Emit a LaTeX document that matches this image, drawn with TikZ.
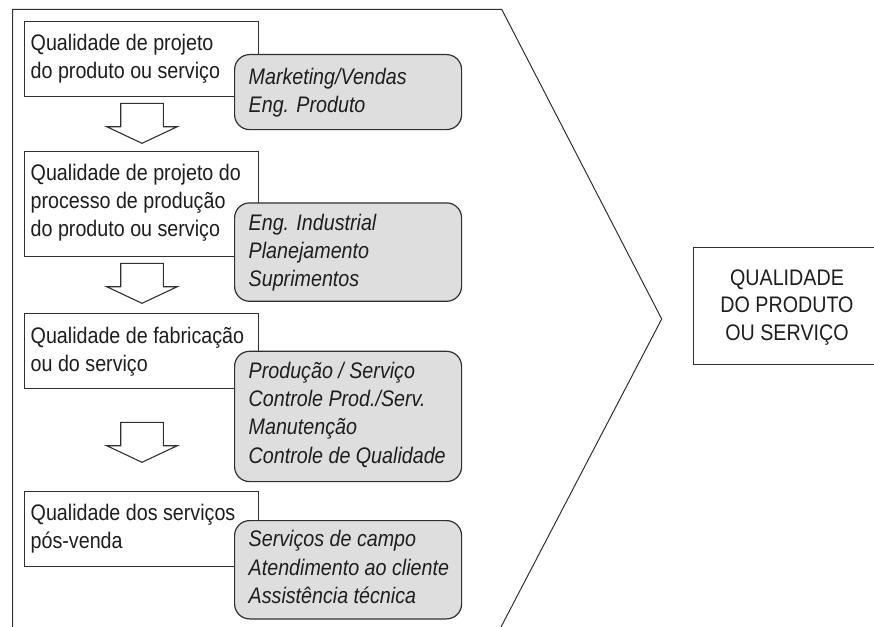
\documentclass[tikz,border=0pt]{standalone}
\usepackage{fontspec}
\setmainfont{Liberation Sans}[FakeStretch=0.875]
\definecolor{ink}{HTML}{1E1E1E}
\definecolor{frame}{HTML}{303030}
\definecolor{panel}{HTML}{DEDEDE}
\tikzset{
  txt/.style={anchor=base west, inner sep=0pt, text=ink, font=\fontsize{22.5}{28.3}\selectfont},
  itxt/.style={txt, font=\fontsize{22.5}{28.3}\selectfont\itshape},
  stage/.style={draw=frame, line width=1.1pt, fill=white, rectangle, anchor=north west, inner sep=0pt, minimum width=234pt},
  dept/.style={draw=frame, line width=1.2pt, fill=panel, rounded corners=15pt, anchor=north west, inner sep=0pt, minimum width=227pt},
  flowarrow/.style={draw=frame, line width=1.1pt, fill=white, line join=miter},
  downarrow/.pic={\draw[flowarrow] (-21.3,0) -- (21.3,0) -- (21.3,23.4) -- (35.3,23.4)
      -- (0,40) -- (-35.3,23.4) -- (-21.3,23.4) -- cycle;},
}
\begin{document}
\begin{tikzpicture}[x=1pt,y=-1pt]
\useasboundingbox (0,0) rectangle (874,626);
\clip (0,0) rectangle (874,626);

% outer chevron enclosing the four stages
\coordinate (cLB) at (12.7,640);
\coordinate (cLT) at (12.7,9.3);
\coordinate (cRT) at (501.7,9.3);
\coordinate (cTip) at (661.7,319);
\coordinate (cRB) at (494.2,640);
\draw[frame, line width=1pt, line join=miter] (cLB) -- (cLT) -- (cRT) -- (cTip) -- (cRB);

% stages (white boxes)
\node[stage, minimum height=75.3pt]  (s1) at (24,20.7)  {};
\node[stage, minimum height=104.7pt] (s2) at (24,151)   {};
\node[stage, minimum height=75.6pt]  (s3) at (24,312.7) {};
\node[stage, minimum height=75pt]    (s4) at (24,491)   {};

% block arrows between the stages
\pic (a1) at (142,103.3) {downarrow};
\pic (a2) at (142,263.3) {downarrow};
\pic (a3) at (142,422.3) {downarrow};

% departments (grey rounded boxes)
\node[dept, minimum height=75pt]    (d1) at (234,54)    {};
\node[dept, minimum height=98.4pt]  (d2) at (234,202.3) {};
\node[dept, minimum height=130.3pt] (d3) at (234,350.7) {};
\node[dept, minimum height=98.3pt]  (d4) at (234,520)   {};

% stage labels
\node[txt] (t1) at (30.5,50.7)  {\begin{tabular}[t]{@{}l@{}}Qualidade de projeto\\do produto ou serviço\end{tabular}};
\node[txt] (t2) at (30.5,180)   {\begin{tabular}[t]{@{}l@{}}Qualidade de projeto do\\processo de produção\\do produto ou serviço\end{tabular}};
\node[txt] (t3) at (30.5,343.3) {\begin{tabular}[t]{@{}l@{}}Qualidade de fabricação\\ou do serviço\end{tabular}};
\node[txt] (t4) at (30.5,520)   {\begin{tabular}[t]{@{}l@{}}Qualidade dos serviços\\pós-venda\end{tabular}};

% department labels
\node[itxt] (u1) at (248.5,84.5)  {\begin{tabular}[t]{@{}l@{}}Marketing/Vendas\\Eng. Produto\end{tabular}};
\node[itxt] (u2) at (248.5,230)   {\begin{tabular}[t]{@{}l@{}}Eng. Industrial\\Planejamento\\Suprimentos\end{tabular}};
\node[itxt] (u3) at (248.5,378.3) {\begin{tabular}[t]{@{}l@{}}Produção / Serviço\\Controle Prod./Serv.\\Manutenção\\Controle de Qualidade\end{tabular}};
\node[itxt] (u4) at (248.5,546.7) {\begin{tabular}[t]{@{}l@{}}Serviços de campo\\Atendimento ao cliente\\Assistência técnica\end{tabular}};

% result box
\node[draw=frame, line width=1.1pt, fill=white, anchor=north west, inner sep=0pt,
      minimum width=188pt, minimum height=117pt] (res) at (693,247) {};
\node[txt, anchor=base, font=\fontsize{22.5}{27.5}\selectfont] (rt) at (787,285)
  {\begin{tabular}[t]{@{}c@{}}QUALIDADE\\DO PRODUTO\\OU SERVIÇO\end{tabular}};
\end{tikzpicture}
\end{document}
